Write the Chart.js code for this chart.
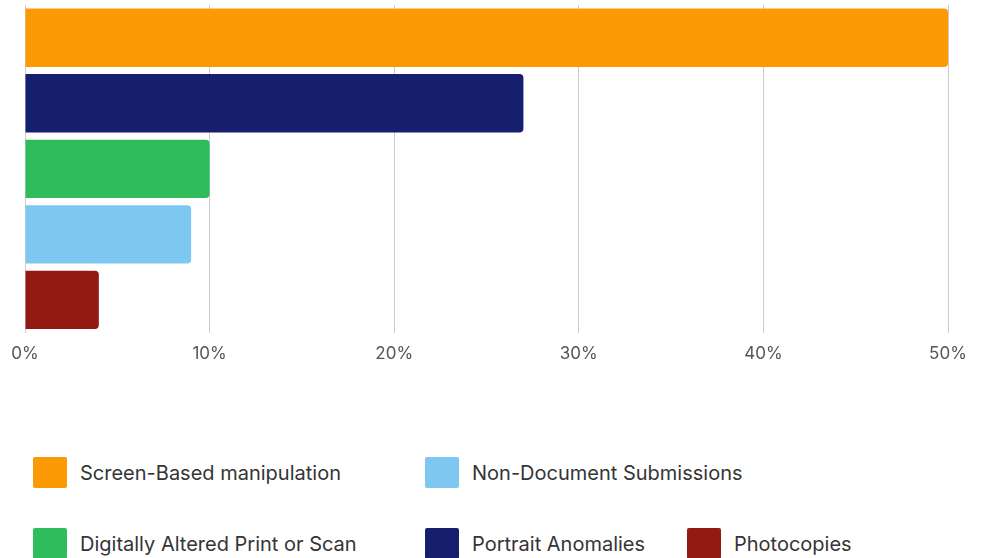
<!DOCTYPE html>
<html>
<head>
<meta charset="utf-8">
<script src="https://cdn.jsdelivr.net/npm/chart.js@4.4.1/dist/chart.umd.min.js"></script>
<style>
  html, body { margin: 0; padding: 0; background: #ffffff; }
  body { width: 984px; height: 558px; position: relative; overflow: hidden; font-family: Inter, "DejaVu Sans", sans-serif; }
  #wrap { position: absolute; left: 0; top: 0; width: 984px; height: 392px; }
  .leg { position: absolute; display: flex; align-items: center; font-size: 20px; color: #353535; white-space: nowrap; }
  .leg .sw { width: 34px; height: 31px; border-radius: 2px; margin-right: 13px; flex: none; }
</style>
</head>
<body>
<div id="wrap"><canvas id="c"></canvas></div>
<div id="legend"></div>
<script>
const categories = ["Screen-Based manipulation", "Portrait Anomalies", "Digitally Altered Print or Scan", "Non-Document Submissions", "Photocopies"];
const values = [50, 27, 10, 9, 4];
const colors = ["#FC9A05", "#151F6E", "#2EBD5A", "#7DC7F1", "#921A12"];
const xTicks = [0, 10, 20, 30, 40, 50];
// legend rows, as indices into categories
const legendRows = [[0, 3], [2, 1, 4]];
const legendCols = [33, 425, 687];
const legendRowTop = [457, 528];

new Chart(document.getElementById('c'), {
  type: 'bar',
  data: {
    labels: categories,
    datasets: [{
      data: values,
      backgroundColor: colors,
      borderWidth: 0,
      borderRadius: 4,
      barPercentage: 1,
      categoryPercentage: 0.89
    }]
  },
  options: {
    indexAxis: 'y',
    responsive: true,
    maintainAspectRatio: false,
    animation: false,
    layout: { padding: { left: 25, right: 36, top: 5, bottom: 17 } },
    plugins: { legend: { display: false }, tooltip: { enabled: false } },
    scales: {
      x: {
        min: 0, max: 50,
        afterBuildTicks: (s) => { s.ticks = xTicks.map(v => ({ value: v })); },
        afterFit: (s) => { s.paddingLeft = 0; s.paddingRight = 0; },
        grid: { color: '#cccccc', lineWidth: 1, drawTicks: false },
        border: { display: false },
        ticks: {
          padding: 11,
          color: '#555555',
          font: { family: 'Inter', size: 17 },
          callback: (v) => v + '%'
        }
      },
      y: {
        display: false
      }
    }
  }
});

const legend = document.getElementById('legend');
legendRows.forEach((row, r) => {
  row.forEach((idx, c) => {
    const d = document.createElement('div');
    d.className = 'leg';
    d.style.left = legendCols[c] + 'px';
    d.style.top = legendRowTop[r] + 'px';
    const sw = document.createElement('div');
    sw.className = 'sw';
    sw.style.background = colors[idx];
    const t = document.createElement('span');
    t.textContent = categories[idx];
    d.appendChild(sw); d.appendChild(t);
    legend.appendChild(d);
  });
});
</script>
</body>
</html>
